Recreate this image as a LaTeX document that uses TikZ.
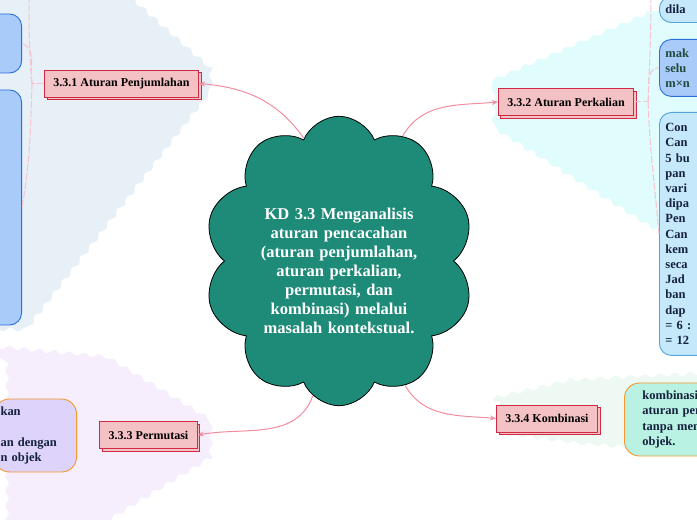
\documentclass[tikz,border=0pt]{standalone}
\usepackage{fontspec}
\setmainfont{Liberation Serif}
\usetikzlibrary{shapes.symbols,shadows,arrows.meta,decorations.pathmorphing}
\definecolor{kdgreen}{HTML}{1E8A78}
\definecolor{linkpink}{HTML}{F28CA0}
\definecolor{forkpink}{HTML}{F6C4CC}
\definecolor{topicfill}{HTML}{F4C1C5}
\definecolor{topicline}{HTML}{CF2A42}
\definecolor{zoneblue}{HTML}{E7F0F6}
\definecolor{zonecyan}{HTML}{E1FCFC}
\definecolor{zonelilac}{HTML}{F6EEFC}
\definecolor{zonemint}{HTML}{EEF9F3}
\definecolor{leafblue}{HTML}{A8CBFA}
\definecolor{leafblueline}{HTML}{2B70D8}
\definecolor{leafsky}{HTML}{C5E9FB}
\definecolor{leafskyline}{HTML}{55A2DC}
\definecolor{leaflilac}{HTML}{DDD3FB}
\definecolor{leafmint}{HTML}{B9F1E2}
\definecolor{leaforange}{HTML}{F5982E}
\definecolor{leafink}{HTML}{15213D}
\definecolor{leafgreen}{HTML}{1F4A3A}
\tikzset{
	zone/.style = {decorate, decoration={snake, segment length=15pt, amplitude=1.8pt}},
	link/.style = {draw=linkpink, line width=1pt, -{Stealth[length=6pt, width=5pt]}},
	fork/.style = {draw=forkpink, line width=1pt, dash pattern=on 7pt off 2pt},
	topic/.style = {
		rectangle, draw=topicline, fill=topicfill, line width=0.9pt,
		font=\bfseries\fontsize{12}{14}\selectfont,
		inner xsep=9pt, minimum height=27pt,
		copy shadow={shadow xshift=2.5pt, shadow yshift=-2.5pt}
	},
	leaf/.style = {
		rectangle, rounded corners=12pt, line width=0.9pt, align=left,
		text=leafink, font=\bfseries\fontsize{12.5}{15.2}\selectfont
	},
	bluebox/.style = {leaf, draw=leafblueline, fill=leafblue},
	skybox/.style = {leaf, draw=leafskyline, fill=leafsky},
	lilacbox/.style = {leaf, draw=leaforange, fill=leaflilac, rounded corners=15pt},
	mintbox/.style = {leaf, draw=leaforange, fill=leafmint, rounded corners=15pt}
}
\begin{document}
\begin{tikzpicture}[x=1pt, y=1pt]
\useasboundingbox (0,0) rectangle (697,520);
\clip (0,0) rectangle (697,520);

\fill[zoneblue, zone] (-10,530) -- (124,530) -- (124,520) -- (205,448) -- (205,420) -- (24,186) -- (-10,186) -- cycle;
\fill[zonecyan, zone] (493,440) -- (655,510) -- (707,515) -- (707,286) -- (655,295) -- (493,397) -- cycle;
\fill[zonelilac, zone] (-10,174) -- (100,164) -- (205,100) -- (205,66) -- (97,0) -- (97,-10) -- (-10,-10) -- cycle;
\fill[zonemint, zone] (493,122) -- (570,140) -- (707,147) -- (707,60) -- (570,72) -- (493,82) -- cycle;

\node[bluebox, anchor=east, minimum width=70pt, minimum height=59pt] (la) at (22,476.5) {};
\node[bluebox, anchor=east, minimum width=70pt, minimum height=235pt] (lb) at (22,312.5) {};
\node[skybox, anchor=south west, text width=60pt, inner xsep=6pt, minimum height=26pt] (lc) at (659,497) {dila};
\node[bluebox, anchor=north west, text width=60pt, inner xsep=6pt, minimum height=57pt, text=leafgreen] (ld) at (659,481) {mak\\selu\\m×n};
\node[skybox, anchor=north west, text width=60pt, inner xsep=6pt, minimum height=243pt] (le) at (659,408)
	{Con\\Can\\5 bu\\pan\\vari\\dipa\\Pen\\Can\\kem\\seca\\Jad\\ban\\dap\\= 6 :\\= 12};
\node[lilacbox, anchor=east, text width=70pt, inner xsep=6pt, minimum height=73pt] (lf) at (77,84.5)
	{kan\\[15.2pt]an dengan\\n objek};
\node[mintbox, anchor=west, text width=70pt, inner xsep=18pt, minimum height=73pt] (lg) at (624,100.5)
	{kombinasi\\aturan per\\tanpa men\\objek.};

\node[topic] (tp1) at (121.5,436.5) {3.3.1 Aturan Penjumlahan};
\node[topic] (tp2) at (566,418) {3.3.2 Aturan Perkalian};
\node[topic] (tp3) at (148.5,85) {3.3.3 Permutasi};
\node[topic] (tp4) at (547,101.5) {3.3.4 Kombinasi};

\coordinate (up1) at (29,525);
\coordinate (up2) at (651,525);
\draw[fork] (tp1.west) -- ++(-12,0) coordinate (f1);
\draw[fork] (f1) to[out=95,in=-90] (up1);
\draw[fork] (f1) to[out=100,in=-20] (la.east);
\draw[fork] (f1) to[out=-92,in=80] (lb.east);
\draw[fork] (tp2.east) -- ++(14,0) coordinate (f2);
\draw[fork] (f2) to[out=88,in=-90] (up2);
\draw[fork] (f2) to[out=85,in=180] (ld.west);
\draw[fork] (f2) to[out=-88,in=95] (le.west);

\node[cloud, cloud puffs=10, cloud puff arc=135, aspect=0.9, draw=black, fill=kdgreen,
	line width=0.8pt, minimum width=250pt, minimum height=275pt, inner sep=0pt,
	text width=162pt, text=white, align=center, font=\bfseries\fontsize{16.5}{19}\selectfont] (kd) at (339,259)
	{\rule{0pt}{32pt}KD 3.3 Menganalisis\\aturan pencacahan\\(aturan penjumlahan,\\aturan perkalian,\\permutasi, dan\\kombinasi) melalui\\masalah kontekstual.};

\draw[link] (kd.106) to[out=125,in=-5] (tp1.east);
\draw[link] (kd.63) to[out=60,in=185] (tp2.west);
\draw[link] (kd.259) to[out=250,in=10] (tp3.east);
\draw[link] (kd.298) to[out=-60,in=175] (tp4.west);
\end{tikzpicture}
\end{document}
